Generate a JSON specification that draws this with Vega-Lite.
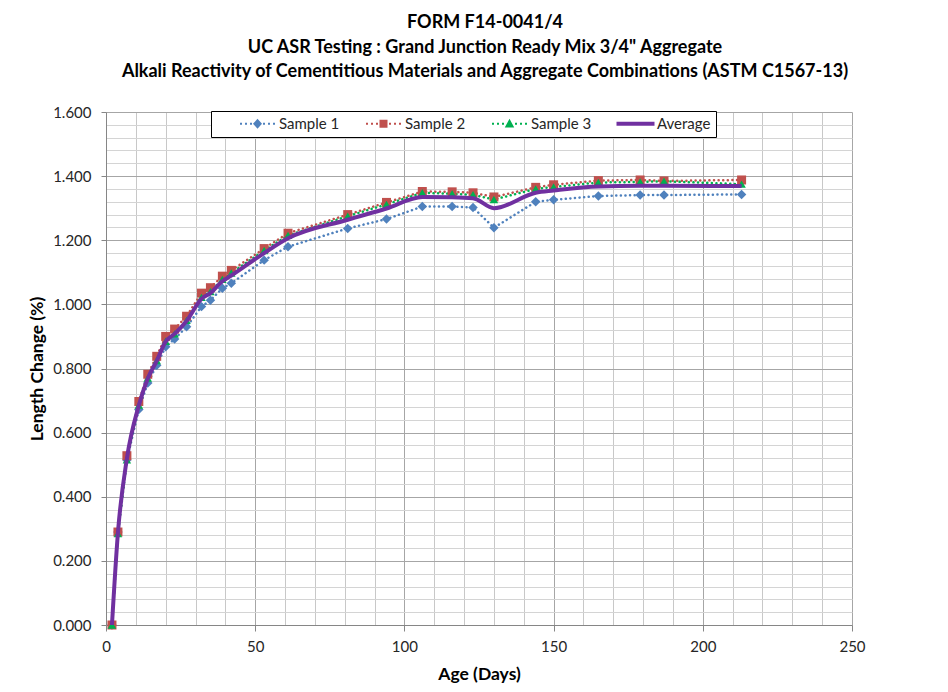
{
  "$schema": "https://vega.github.io/schema/vega-lite/v6.json",
  "width": 746,
  "height": 513,
  "autosize": "none",
  "padding": {"left": 106, "top": 112, "right": 96, "bottom": 67},
  "background": "white",
  "config": {"font": "Lato", "view": {"stroke": null}},
  "title": {
    "text": ["FORM F14-0041/4", "UC ASR Testing : Grand Junction Ready Mix 3/4\" Aggregate", "Alkali Reactivity of Cementitious Materials and Aggregate Combinations (ASTM C1567-13)"],
    "font": "Lato", "fontSize": 18, "fontWeight": "bold", "color": "#000000",
    "lineHeight": 24.5, "offset": 24, "anchor": "middle", "dx": 6
  },
  "data": {"values": [
    {"day": 2, "Sample 1": 0.000, "Sample 2": 0.000, "Sample 3": 0.000, "Average": 0.000},
    {"day": 4, "Sample 1": 0.290, "Sample 2": 0.290, "Sample 3": 0.285, "Average": 0.288},
    {"day": 7, "Sample 1": 0.515, "Sample 2": 0.528, "Sample 3": 0.515, "Average": 0.519},
    {"day": 11, "Sample 1": 0.672, "Sample 2": 0.697, "Sample 3": 0.686, "Average": 0.685},
    {"day": 14, "Sample 1": 0.755, "Sample 2": 0.782, "Sample 3": 0.770, "Average": 0.769},
    {"day": 17, "Sample 1": 0.810, "Sample 2": 0.838, "Sample 3": 0.825, "Average": 0.824},
    {"day": 20, "Sample 1": 0.868, "Sample 2": 0.900, "Sample 3": 0.885, "Average": 0.884},
    {"day": 23, "Sample 1": 0.892, "Sample 2": 0.923, "Sample 3": 0.908, "Average": 0.908},
    {"day": 27, "Sample 1": 0.930, "Sample 2": 0.963, "Sample 3": 0.950, "Average": 0.948},
    {"day": 32, "Sample 1": 0.993, "Sample 2": 1.035, "Sample 3": 1.022, "Average": 1.017},
    {"day": 35, "Sample 1": 1.013, "Sample 2": 1.052, "Sample 3": 1.040, "Average": 1.035},
    {"day": 39, "Sample 1": 1.050, "Sample 2": 1.088, "Sample 3": 1.078, "Average": 1.072},
    {"day": 42, "Sample 1": 1.066, "Sample 2": 1.106, "Sample 3": 1.098, "Average": 1.090},
    {"day": 53, "Sample 1": 1.138, "Sample 2": 1.174, "Sample 3": 1.168, "Average": 1.160},
    {"day": 61, "Sample 1": 1.180, "Sample 2": 1.222, "Sample 3": 1.215, "Average": 1.206},
    {"day": 81, "Sample 1": 1.237, "Sample 2": 1.280, "Sample 3": 1.275, "Average": 1.264},
    {"day": 94, "Sample 1": 1.266, "Sample 2": 1.318, "Sample 3": 1.312, "Average": 1.299},
    {"day": 106, "Sample 1": 1.305, "Sample 2": 1.352, "Sample 3": 1.348, "Average": 1.335},
    {"day": 116, "Sample 1": 1.305, "Sample 2": 1.351, "Sample 3": 1.345, "Average": 1.334},
    {"day": 123, "Sample 1": 1.302, "Sample 2": 1.348, "Sample 3": 1.342, "Average": 1.331},
    {"day": 130, "Sample 1": 1.239, "Sample 2": 1.335, "Sample 3": 1.327, "Average": 1.300},
    {"day": 144, "Sample 1": 1.320, "Sample 2": 1.365, "Sample 3": 1.360, "Average": 1.348},
    {"day": 150, "Sample 1": 1.326, "Sample 2": 1.373, "Sample 3": 1.366, "Average": 1.355},
    {"day": 165, "Sample 1": 1.338, "Sample 2": 1.386, "Sample 3": 1.380, "Average": 1.368},
    {"day": 179, "Sample 1": 1.341, "Sample 2": 1.388, "Sample 3": 1.382, "Average": 1.370},
    {"day": 187, "Sample 1": 1.341, "Sample 2": 1.385, "Sample 3": 1.384, "Average": 1.370},
    {"day": 213, "Sample 1": 1.343, "Sample 2": 1.388, "Sample 3": 1.375, "Average": 1.369}
  ]},
  "transform": [{"fold": ["Sample 1", "Sample 2", "Sample 3", "Average"], "as": ["series", "value"]}],
  "encoding": {
    "x": {
      "field": "day", "type": "quantitative",
      "scale": {"domain": [0, 250], "nice": false, "zero": false},
      "axis": {
        "title": "Age (Days)",
        "values": [0,10,20,30,40,50,60,70,80,90,100,110,120,130,140,150,160,170,180,190,200,210,220,230,240,250],
        "labelExpr": "datum.value % 50 === 0 ? datum.label : ''",
        "grid": true,
        "gridColor": {"condition": {"test": "datum.value % 50 === 0", "value": "#a6a6a6"}, "value": "#c8c8c8"},
        "gridWidth": 1,
        "tickOpacity": {"condition": {"test": "datum.value % 50 === 0", "value": 1}, "value": 0},
        "tickSize": 6, "tickColor": "#868686", "domainColor": "#868686",
        "labelFont": "Lato", "labelFontSize": 15, "labelColor": "#262626", "labelPadding": 8,
        "labelFlush": false, "labelOverlap": false,
        "titleFont": "Lato", "titleFontSize": 17.5, "titleFontWeight": "bold", "titleColor": "#000000", "titlePadding": 11
      }
    },
    "y": {
      "field": "value", "type": "quantitative",
      "scale": {"domain": [0, 1.6], "nice": false},
      "axis": {
        "title": "Length Change (%)",
        "values": [0,0.04,0.08,0.12,0.16,0.2,0.24,0.28,0.32,0.36,0.4,0.44,0.48,0.52,0.56,0.6,0.64,0.68,0.72,0.76,0.8,0.84,0.88,0.92,0.96,1,1.04,1.08,1.12,1.16,1.2,1.24,1.28,1.32,1.36,1.4,1.44,1.48,1.52,1.56,1.6],
        "format": ".3f",
        "labelExpr": "abs(datum.value*5 - round(datum.value*5)) < 0.000001 ? datum.label : ''",
        "grid": true,
        "gridColor": {"condition": {"test": "abs(datum.value*5 - round(datum.value*5)) < 0.000001", "value": "#a6a6a6"}, "value": "#d4d4d4"},
        "gridWidth": 1,
        "tickOpacity": {"condition": {"test": "abs(datum.value*5 - round(datum.value*5)) < 0.000001", "value": 1}, "value": 0},
        "tickSize": 5, "tickColor": "#868686", "domainColor": "#868686",
        "labelFont": "Lato", "labelFontSize": 15, "labelColor": "#262626", "labelPadding": 10,
        "labelOverlap": false, "labelFlush": false,
        "titleFont": "Lato", "titleFontSize": 17.5, "titleFontWeight": "bold", "titleColor": "#000000", "titlePadding": 6
      }
    },
    "color": {
      "field": "series", "type": "nominal",
      "scale": {"domain": ["Sample 1", "Sample 2", "Sample 3", "Average"], "range": ["#4F81BD", "#C0504D", "#00B050", "#7030A0"]},
      "legend": {
        "title": null, "orient": "none", "legendX": 105, "legendY": -1,
        "direction": "horizontal", "columns": 4,
        "fillColor": "white", "strokeColor": "#000000", "padding": 5,
        "symbolSize": 100, "symbolOffset": 34, "labelOffset": 14, "columnPadding": 2,
        "labelFont": "Lato", "labelFontSize": 15, "labelColor": "#262626",
        "encode": {
          "symbols": {
            "update": {
              "shape": {"signal": "datum.value === 'Sample 1' ? 'M-3.5,-0.2H-3.1V0.2H-3.5Z M-2.5,-0.2H-2.1V0.2H-2.5Z M-1.5,-0.2H-1.1V0.2H-1.5Z M1.1,-0.2H1.5V0.2H1.1Z M2.1,-0.2H2.5V0.2H2.1Z M3.1,-0.2H3.5V0.2H3.1Z M0,-1L0.9,0L0,1L-0.9,0Z' : datum.value === 'Sample 2' ? 'M-3.5,-0.2H-3.1V0.2H-3.5Z M-2.5,-0.2H-2.1V0.2H-2.5Z M-1.5,-0.2H-1.1V0.2H-1.5Z M1.1,-0.2H1.5V0.2H1.1Z M2.1,-0.2H2.5V0.2H2.1Z M3.1,-0.2H3.5V0.2H3.1Z M-0.8,-0.8H0.8V0.8H-0.8Z' : datum.value === 'Sample 3' ? 'M-3.5,-0.2H-3.1V0.2H-3.5Z M-2.5,-0.2H-2.1V0.2H-2.5Z M-1.5,-0.2H-1.1V0.2H-1.5Z M1.1,-0.2H1.5V0.2H1.1Z M2.1,-0.2H2.5V0.2H2.1Z M3.1,-0.2H3.5V0.2H3.1Z M0,-1L0.95,0.75L-0.95,0.75Z' : 'M-3.8,-0.4H3.8V0.4H-3.8Z'"},
              "fill": {"signal": "scale('color', datum.value)"},
              "fillOpacity": {"value": 1},
              "opacity": {"value": 1},
              "stroke": {"value": "transparent"},
              "strokeWidth": {"value": 0},
              "strokeDash": {"value": []}
            }
          }
        }
      }
    }
  },
  "layer": [
    {
      "transform": [{"filter": "datum.series !== 'Average'"}],
      "mark": {"type": "line", "strokeWidth": 2.5, "strokeDash": [0.1, 4.5], "strokeCap": "round"}
    },
    {
      "transform": [{"filter": "datum.series !== 'Average'"}],
      "mark": {"type": "point", "filled": true, "opacity": 1},
      "encoding": {
        "shape": {"field": "series", "type": "nominal", "scale": {"domain": ["Sample 1", "Sample 2", "Sample 3"], "range": ["diamond", "square", "triangle-up"]}, "legend": null},
        "size": {"field": "series", "type": "nominal", "scale": {"domain": ["Sample 1", "Sample 2", "Sample 3"], "range": [90, 72, 66]}, "legend": null}
      }
    },
    {
      "transform": [{"filter": "datum.series === 'Average'"}],
      "mark": {"type": "line", "strokeWidth": 4, "interpolate": "monotone"}
    }
  ]
}
